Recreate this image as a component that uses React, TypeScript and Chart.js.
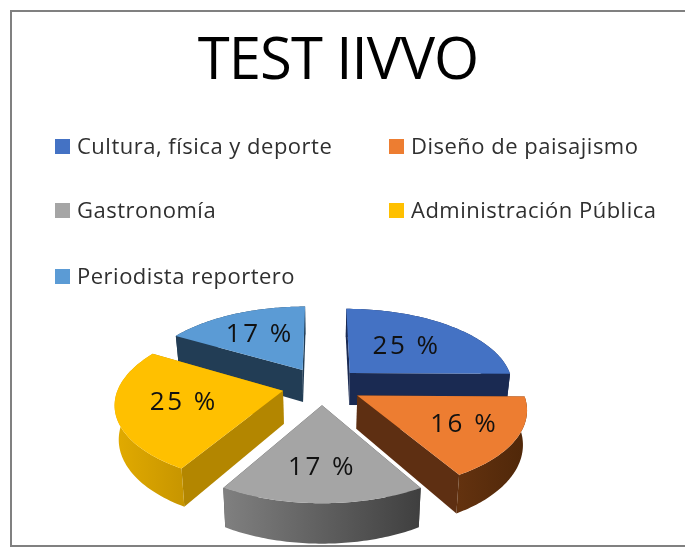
import React, { useEffect, useRef } from "react";
import { Chart, registerables } from "chart.js";

Chart.register(...registerables);

const TITLE = "TEST IIVVO";
const categories = [
  "Cultura, física y deporte",
  "Diseño de paisajismo",
  "Gastronomía",
  "Administración Pública",
  "Periodista reportero",
];
const shares = [25.2, 16.4, 16.8, 25, 16.6];
const topColors = ["#4472c4", "#ed7d31", "#a5a5a5", "#ffc000", "#5b9bd5"];
const radialColors = ["#1a2a52", "#5e2f12", "#4a4a4a", "#b38600", "#223d55"];
const wallLeftColors = ["#1a2a52", "#63320f", "#808080", "#e2ab00", "#223d55"];
const wallRightColors = ["#1a2a52", "#4f2709", "#3f3f3f", "#c89600", "#223d55"];
const labelFractions = [0.54, 0.69, 0.67, 0.6, 0.6];

const FONT = "'Open Sans', sans-serif";
const EXPLODE = 40;
const RADIUS = 164;
const TILT = 0.47;
const PERSPECTIVE = 0.0009;
const DEPTH = 33;
const PIE_SHIFT_X = -16;

function project(chart: any, u: number, v: number, z = 0) {
  const cx = (chart.chartArea.left + chart.chartArea.right) / 2 + PIE_SHIFT_X;
  const cy = (chart.chartArea.top + chart.chartArea.bottom) / 2;
  const w = 1 / (1 - PERSPECTIVE * v);
  return {
    x: cx + u * w * (1 - 0.02 * z),
    y: cy + TILT * v * w + z * DEPTH * w,
  };
}

function fillRun(chart: any, ctx: any, run: { u: number; v: number }[], fill: any) {
  if (run.length < 2) return;
  ctx.beginPath();
  run.forEach((p, i) => {
    const q = project(chart, p.u, p.v);
    if (i === 0) ctx.moveTo(q.x, q.y);
    else ctx.lineTo(q.x, q.y);
  });
  for (let i = run.length - 1; i >= 0; i--) {
    const q = project(chart, run[i].u, run[i].v, 1);
    ctx.lineTo(q.x, q.y);
  }
  ctx.closePath();
  ctx.fillStyle = fill;
  ctx.fill();
}

const pie3d = {
  id: "pie3d",
  beforeDraw(chart: any) {
    const { ctx, width, height } = chart;
    ctx.save();
    ctx.fillStyle = "#ffffff";
    ctx.fillRect(0, 0, width, height);
    ctx.strokeStyle = "#808080";
    ctx.lineWidth = 2;
    ctx.beginPath();
    ctx.moveTo(width, 11);
    ctx.lineTo(11, 11);
    ctx.lineTo(11, 546);
    ctx.lineTo(width, 546);
    ctx.stroke();
    ctx.restore();
    ctx.letterSpacing = "-0.9px";
  },
  beforeDatasetDraw(chart: any, args: any) {
    const { ctx } = chart;
    const arcs = chart.getDatasetMeta(args.index).data as any[];
    const slices = arcs.map((arc, i) => {
      const mid = (arc.startAngle + arc.endAngle) / 2;
      const off = arc.options.offset;
      return { arc, i, ou: Math.cos(mid) * off, ov: Math.sin(mid) * off };
    });
    slices.sort((a, b) => a.ov - b.ov);
    for (const s of slices) {
      const { arc, i, ou, ov } = s;
      const r = arc.outerRadius;
      const n = 64;
      const rim: { u: number; v: number; t: number }[] = [];
      for (let k = 0; k <= n; k++) {
        const t = arc.startAngle + ((arc.endAngle - arc.startAngle) * k) / n;
        rim.push({ u: ou + Math.cos(t) * r, v: ov + Math.sin(t) * r, t });
      }
      const pts = rim.map((p) => project(chart, p.u, p.v));
      const xs = pts.map((p) => p.x);
      const grad = ctx.createLinearGradient(Math.min(...xs), 0, Math.max(...xs), 0);
      grad.addColorStop(0, wallLeftColors[i]);
      grad.addColorStop(1, wallRightColors[i]);

      // split the outer wall into the part facing away and the part facing the viewer
      const back: (typeof rim)[] = [];
      const front: (typeof rim)[] = [];
      let run: typeof rim = [];
      let runFront: boolean | null = null;
      for (let k = 0; k < n; k++) {
        const isFront = Math.sin((rim[k].t + rim[k + 1].t) / 2) >= 0;
        if (isFront !== runFront) {
          if (run.length) (runFront ? front : back).push(run);
          run = [rim[k]];
          runFront = isFront;
        }
        run.push(rim[k + 1]);
      }
      if (run.length) (runFront ? front : back).push(run);

      const apex = { u: ou, v: ov };
      back.forEach((b) => fillRun(chart, ctx, b, grad));
      [rim[0], rim[n]]
        .sort((a, b) => a.v - b.v)
        .forEach((end) => fillRun(chart, ctx, [apex, end], radialColors[i]));
      front.forEach((f) => fillRun(chart, ctx, f, grad));

      const c = project(chart, apex.u, apex.v);
      ctx.beginPath();
      ctx.moveTo(c.x, c.y);
      pts.forEach((p) => ctx.lineTo(p.x, p.y));
      ctx.closePath();
      ctx.fillStyle = arc.options.backgroundColor;
      ctx.fill();
    }
    return false;
  },
  afterDraw(chart: any) {
    const { ctx } = chart;
    const meta = chart.getDatasetMeta(0);
    ctx.save();
    // value labels
    ctx.fillStyle = "#111111";
    ctx.textAlign = "center";
    ctx.textBaseline = "middle";
    ctx.font = `26px ${FONT}`;
    ctx.letterSpacing = "2.5px";
    meta.data.forEach((arc: any, i: number) => {
      const mid = (arc.startAngle + arc.endAngle) / 2;
      const d = arc.options.offset + arc.outerRadius * labelFractions[i];
      const p = project(chart, Math.cos(mid) * d, Math.sin(mid) * d);
      ctx.fillText(`${Math.round(shares[i])} %`, p.x, p.y);
    });
    // legend: two columns, three rows
    const colX = [55, 389];
    const rowY = [147, 211, 277];
    ctx.textAlign = "left";
    ctx.font = `22px ${FONT}`;
    ctx.letterSpacing = "0.5px";
    categories.forEach((name, i) => {
      const x = colX[i % 2];
      const y = rowY[Math.floor(i / 2)];
      ctx.fillStyle = topColors[i];
      ctx.fillRect(x, y - 8, 15, 15);
      ctx.fillStyle = "#2f2f2f";
      ctx.fillText(name, x + 22, y + 1);
    });
    ctx.restore();
  },
};

export default function App() {
  const ref = useRef<HTMLCanvasElement>(null);
  useEffect(() => {
    const chart = new Chart(ref.current as HTMLCanvasElement, {
      type: "pie",
      data: {
        labels: categories,
        datasets: [
          {
            data: shares,
            backgroundColor: topColors,
            borderWidth: 0,
            offset: EXPLODE,
            radius: RADIUS,
          } as any,
        ],
      },
      options: {
        responsive: false,
        animation: false,
        layout: { padding: { left: 0, right: 9, top: 0, bottom: 25 } },
        plugins: {
          legend: { display: false },
          tooltip: { enabled: false },
          title: {
            display: true,
            text: TITLE,
            color: "#000000",
            font: { family: FONT, size: 58, weight: "normal" },
            padding: { top: 28, bottom: 152 },
          },
        },
      },
      plugins: [pie3d as any],
    });
    return () => chart.destroy();
  }, []);
  return (
    <canvas
      ref={ref}
      width={685}
      height={547}
      style={{ position: "fixed", left: 0, top: 0, width: 685, height: 547 }}
    />
  );
}
